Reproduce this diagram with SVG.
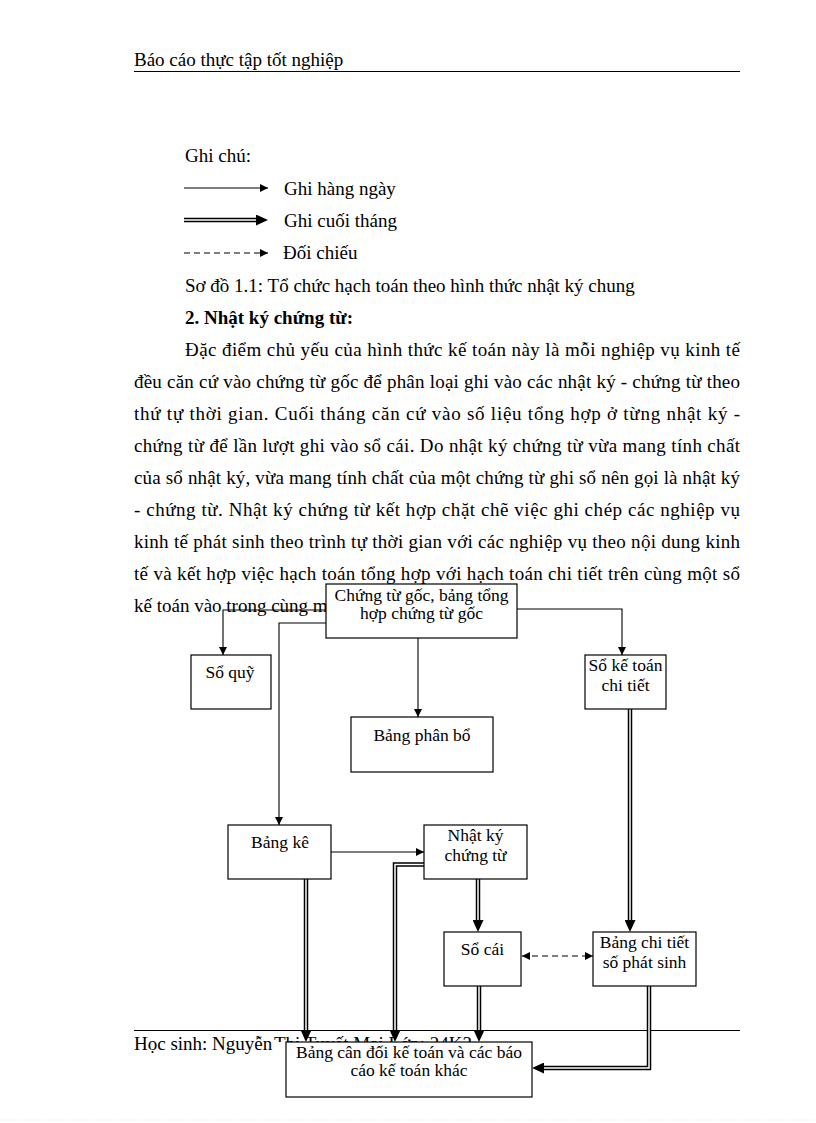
<svg xmlns="http://www.w3.org/2000/svg" width="816" height="1123" viewBox="0 0 816 1123">
<style>
.t{font-family:"Liberation Serif","Times New Roman",serif;font-size:19px;fill:#000}
.b{font-weight:bold}
.n{font-family:"Liberation Serif","Times New Roman",serif;font-size:17.5px;fill:#000;text-anchor:middle}
.box{fill:#fff;stroke:#000;stroke-width:1.2}
.thin{fill:none;stroke:#000;stroke-width:1.1}
.dbl{fill:none;stroke:#000;stroke-width:4.5;stroke-linejoin:miter}
.dblin{fill:none;stroke:#fff;stroke-width:1.5;stroke-linejoin:miter}
.dash{fill:none;stroke:#000;stroke-width:1.1;stroke-dasharray:6 4}
.rule{stroke:#000;stroke-width:1.2}
</style>
<defs>
<marker id="aThin" markerUnits="userSpaceOnUse" viewBox="0 0 8 8" markerWidth="8" markerHeight="8" refX="8" refY="4" orient="auto-start-reverse"><path d="M0,0 L8,4 L0,8 z" fill="#000"/></marker>
<marker id="aDbl" markerUnits="userSpaceOnUse" viewBox="0 0 12 11" markerWidth="12" markerHeight="11" refX="0" refY="5.5" orient="auto"><path d="M0,0 L12,5.5 L0,11 z" fill="#000"/></marker>
<clipPath id="aboveBox"><rect x="0" y="0" width="816" height="1042"/></clipPath>
</defs>
<rect width="816" height="1123" fill="#fff"/>

<g id="header">
<text class="t" x="134" y="66">Báo cáo thực tập tốt nghiệp</text>
<line class="rule" x1="134" y1="71.5" x2="740" y2="71.5"/>
</g>

<g id="legend">
<text class="t" x="185" y="162">Ghi chú:</text>
<path class="thin" d="M184,188 H268" marker-end="url(#aThin)"/>
<text class="t" x="284" y="195">Ghi hàng ngày</text>
<path class="dbl" d="M184,220 H256" marker-end="url(#aDbl)"/>
<path class="dblin" d="M184,220 H256"/>
<text class="t" x="284" y="227">Ghi cuối tháng</text>
<path class="dash" d="M184,253 H268" marker-end="url(#aThin)"/>
<text class="t" x="283" y="259">Đối chiếu</text>
<text class="t" x="185" y="292">Sơ đồ 1.1: Tổ chức hạch toán theo hình thức nhật ký chung</text>
<text class="t b" x="185" y="324">2. Nhật ký chứng từ:</text>
</g>

<g id="paragraph">
<text class="t" x="185" y="356" textLength="555" lengthAdjust="spacing">Đặc điểm chủ yếu của hình thức kế toán này là mỗi nghiệp vụ kinh tế</text>
<text class="t" x="134" y="388" textLength="606" lengthAdjust="spacing">đều căn cứ vào chứng từ gốc để phân loại ghi vào các nhật ký - chứng từ theo</text>
<text class="t" x="134" y="420" textLength="606" lengthAdjust="spacing">thứ tự thời gian. Cuối tháng căn cứ vào số liệu tổng hợp ở từng nhật ký -</text>
<text class="t" x="134" y="452" textLength="606" lengthAdjust="spacing">chứng từ để lần lượt ghi vào sổ cái. Do nhật ký chứng từ vừa mang tính chất</text>
<text class="t" x="134" y="484" textLength="606" lengthAdjust="spacing">của sổ nhật ký, vừa mang tính chất của một chứng từ ghi sổ nên gọi là nhật ký</text>
<text class="t" x="134" y="516" textLength="606" lengthAdjust="spacing">- chứng từ. Nhật ký chứng từ kết hợp chặt chẽ việc ghi chép các nghiệp vụ</text>
<text class="t" x="134" y="548" textLength="606" lengthAdjust="spacing">kinh tế phát sinh theo trình tự thời gian với các nghiệp vụ theo nội dung kinh</text>
<text class="t" x="134" y="580" textLength="606" lengthAdjust="spacing">tế và kết hợp việc hạch toán tổng hợp với hạch toán chi tiết trên cùng một sổ</text>
<text class="t" x="134" y="612">kế toán vào trong cùng một</text>
</g>

<g id="footer">
<line class="rule" x1="134" y1="1030.5" x2="740" y2="1030.5"/>
<text class="t" x="134" y="1050">Học sinh: Nguyễn</text>
<text class="t" x="274" y="1050" clip-path="url(#aboveBox)">Thị Tuyết Mai Lớp: 24K3</text>
<line x1="0" y1="1120" x2="816" y2="1120" stroke="#f3d6ef" stroke-width="1" stroke-dasharray="1 2"/>
</g>

<g id="connectors">
<path class="thin" d="M326,610 H223 V655" marker-end="url(#aThin)"/>
<path class="thin" d="M326,623 H279 V825" marker-end="url(#aThin)"/>
<path class="thin" d="M517,609 H622 V655" marker-end="url(#aThin)"/>
<path class="thin" d="M418,638 V717" marker-end="url(#aThin)"/>
<path class="thin" d="M331,852 H424" marker-end="url(#aThin)"/>
<path class="dash" d="M522,956 H593" marker-start="url(#aThin)" marker-end="url(#aThin)"/>

<path class="dbl" d="M306,879 V1030" marker-end="url(#aDbl)"/>
<path class="dblin" d="M306,879 V1030"/>
<path class="dbl" d="M424,864.5 H395 V1030" marker-end="url(#aDbl)"/>
<path class="dblin" d="M424,864.5 H395 V1030"/>
<path class="dbl" d="M478,879 V920" marker-end="url(#aDbl)"/>
<path class="dblin" d="M478,879 V920"/>
<path class="dbl" d="M479,986 V1030" marker-end="url(#aDbl)"/>
<path class="dblin" d="M479,986 V1030"/>
<path class="dbl" d="M630,709 V920" marker-end="url(#aDbl)"/>
<path class="dblin" d="M630,709 V920"/>
<path class="dbl" d="M649,986 V1068 H544" marker-end="url(#aDbl)"/>
<path class="dblin" d="M649,986 V1068 H544"/>
</g>

<g id="n-chungtugoc">
<rect class="box" x="326" y="584" width="191" height="54"/>
<text class="n" x="421.5" y="601">Chứng từ gốc, bảng tổng</text>
<text class="n" x="421.5" y="619">hợp chứng từ gốc</text>
</g>
<g id="n-soquy">
<rect class="box" x="191" y="655" width="80" height="54"/>
<text class="n" x="230" y="678">Sổ quỹ</text>
</g>
<g id="n-sokttoanchitiet">
<rect class="box" x="585" y="655" width="81" height="54"/>
<text class="n" x="625.5" y="671">Sổ kế toán</text>
<text class="n" x="625.5" y="691">chi tiết</text>
</g>
<g id="n-bangphanbo">
<rect class="box" x="351" y="717" width="142" height="55"/>
<text class="n" x="422" y="741">Bảng phân bổ</text>
</g>
<g id="n-bangke">
<rect class="box" x="228" y="825" width="103" height="54"/>
<text class="n" x="280" y="848">Bảng kê</text>
</g>
<g id="n-nhatkychungtu">
<rect class="box" x="424" y="825" width="103" height="54"/>
<text class="n" x="475.5" y="841">Nhật ký</text>
<text class="n" x="475.5" y="861">chứng từ</text>
</g>
<g id="n-socai">
<rect class="box" x="444" y="932" width="77" height="54"/>
<text class="n" x="482.5" y="955">Sổ cái</text>
</g>
<g id="n-bangchitiet">
<rect class="box" x="593" y="932" width="103" height="54"/>
<text class="n" x="644.5" y="948">Bảng chi tiết</text>
<text class="n" x="644.5" y="968">số phát sinh</text>
</g>
<g id="n-bangcandoi">
<rect class="box" x="286" y="1042" width="246" height="55"/>
<text class="n" x="409" y="1058">Bảng cân đối kế toán và các báo</text>
<text class="n" x="409" y="1076">cáo kế toán khác</text>
</g>
</svg>
